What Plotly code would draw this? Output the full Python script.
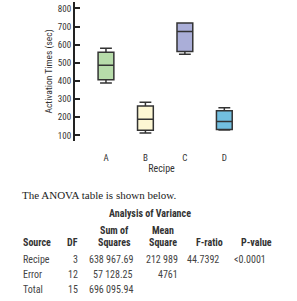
import plotly.graph_objects as go

# ---- data ----
recipes = ["A", "B", "C", "D"]
lower = [389, 113, 547, 130]
q1 = [407, 128, 562, 133]
median = [486, 189, 672, 177]
q3 = [558, 262, 719, 236]
upper = [580, 282, 719, 252]
box_colors = ["#b7dcaa", "#fdf7d3", "#aaaed8", "#72bfe0"]

y_ticks = [100, 200, 300, 400, 500, 600, 700, 800]

table_header1 = ["", "", "Sum of", "Mean", "", ""]
table_header2 = ["Source", "DF", "Squares", "Square", "F-ratio", "P-value"]
table_rows = [
    ["Recipe", "3", "638 967.69", "212 989", "44.7392", "<0.0001"],
    ["Error", "12", "57 128.25", "4761", "", ""],
    ["Total", "15", "696 095.94", "", "", ""],
]

W, H = 297, 301
L, R, T, B = 75, 49, 2, 160
pw, ph = W - L - R, H - T - B


def px(x):
    return (x - L) / pw


def py(y):
    return (H - B - y) / ph


fig = go.Figure()
for i, r in enumerate(recipes):
    fig.add_trace(go.Box(
        x=[r], q1=[q1[i]], median=[median[i]], q3=[q3[i]],
        lowerfence=[lower[i]], upperfence=[upper[i]],
        fillcolor=box_colors[i], line=dict(color="#333333", width=1.5),
        width=0.4, whiskerwidth=0.75, showlegend=False, hoverinfo="skip",
    ))

font_n = "Liberation Sans Narrow, Arial Narrow, Roboto Condensed, Liberation Sans, sans-serif"

fig.update_layout(
    width=W, height=H,
    margin=dict(l=L, r=R, t=T, b=B),
    plot_bgcolor="white", paper_bgcolor="white",
    font=dict(family=font_n, color="#333333", size=9),
    xaxis=dict(
        type="category", categoryorder="array", categoryarray=recipes,
        range=[-0.785, 3.6], showline=False, showgrid=False, zeroline=False,
        ticks="outside", ticklen=8, tickcolor="rgba(0,0,0,0)",
        tickfont=dict(size=9, family=font_n, color="#333333"),
        title=dict(text="Recipe", font=dict(size=10, family=font_n, color="#333333"), standoff=3),
    ),
    yaxis=dict(
        range=[69, 835], tickvals=y_ticks, showgrid=False, zeroline=False,
        showline=True, linecolor="#222222", linewidth=2,
        ticks="inside", ticklen=5, tickcolor="#222222", tickwidth=1.5,
        tickfont=dict(size=9, family=font_n, color="#333333"),
    ),
)

ann = []
ann.append(dict(text="Activation Times (sec)", x=px(48), y=py(71.5), textangle=-90,
                xanchor="center", yanchor="middle", showarrow=False,
                font=dict(family=font_n, size=9.5, color="#333333")))
ann.append(dict(text="The ANOVA table is shown below.", x=px(20), y=py(195),
                xanchor="left", yanchor="middle", showarrow=False,
                font=dict(family="Liberation Serif, Times New Roman, serif", size=11, color="#222222")))
ann.append(dict(text="<b>Analysis of Variance</b>", x=px(150), y=py(214),
                xanchor="center", yanchor="middle", showarrow=False,
                font=dict(family=font_n, size=10, color="#333333")))

# column positions: (x, anchor) for headers and values
head_x = [(20.5, "left"), (72.5, "center"), (114, "center"), (163, "center"), (209, "center"), (256, "center")]
val_x = [(20.5, "left"), (79.5, "right"), (134.5, "right"), (179.5, "right"), (221, "right"), (268, "right")]

for j, txt in enumerate(table_header1):
    if txt:
        x, a = head_x[j]
        ann.append(dict(text=f"<b>{txt}</b>", x=px(x), y=py(230.5), xanchor=a, yanchor="middle",
                        showarrow=False, font=dict(family=font_n, size=10, color="#333333")))
for j, txt in enumerate(table_header2):
    x, a = head_x[j]
    ann.append(dict(text=f"<b>{txt}</b>", x=px(x), y=py(242), xanchor=a, yanchor="middle",
                    showarrow=False, font=dict(family=font_n, size=10, color="#333333")))
row_y = [259, 274, 289]
for i, row in enumerate(table_rows):
    for j, txt in enumerate(row):
        if txt:
            x, a = val_x[j]
            ann.append(dict(text=txt, x=px(x), y=py(row_y[i]), xanchor=a, yanchor="middle",
                            showarrow=False, font=dict(family=font_n, size=10, color="#444444")))

for a in ann:
    a.update(xref="paper", yref="paper")
fig.update_layout(annotations=ann)

fig.write_html("out.html")
